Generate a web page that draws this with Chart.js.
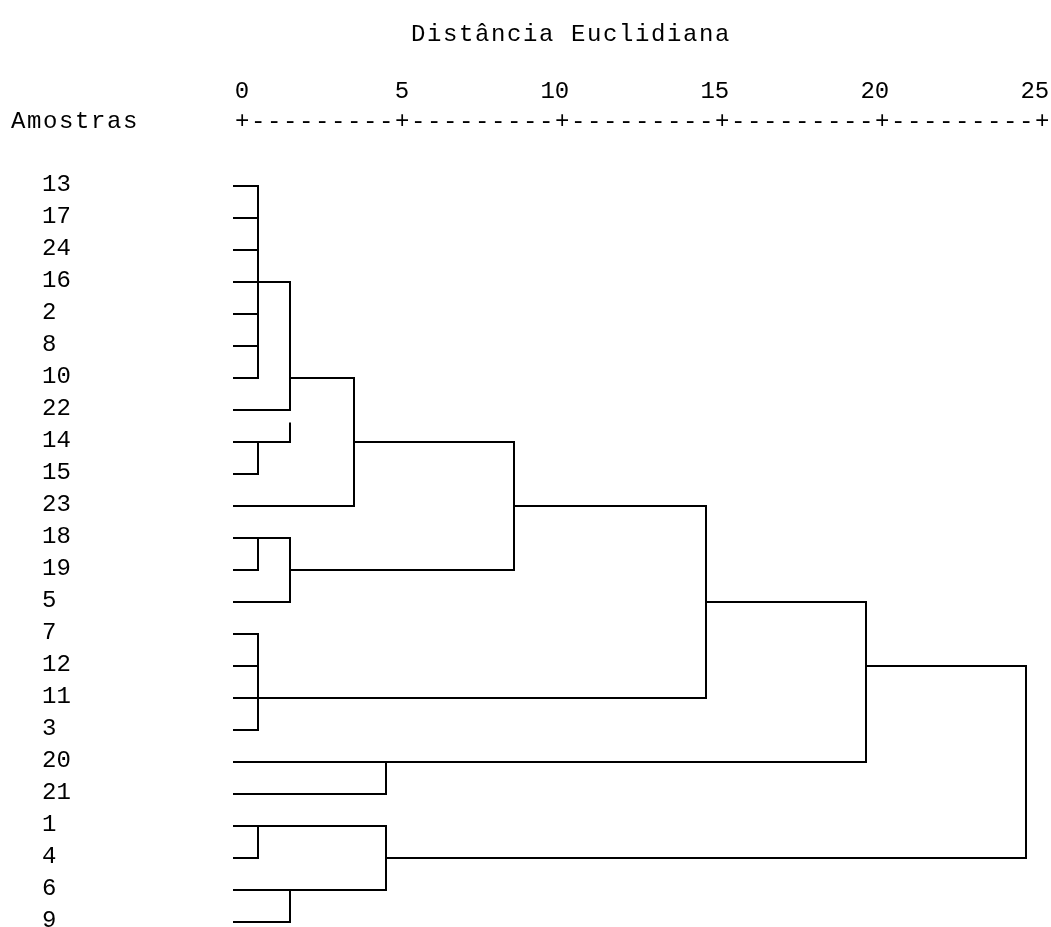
<!DOCTYPE html>
<html lang="pt">
<head>
<meta charset="utf-8">
<title>Dendrograma</title>
<script src="https://cdn.jsdelivr.net/npm/chart.js@4.4.1/dist/chart.umd.min.js"></script>
<style>
  html, body { margin: 0; padding: 0; background: #fff; }
  #wrap { position: relative; width: 1051px; height: 927px; }
  #wrap canvas { position: absolute; left: 0; top: 0; }
  .txt { position: absolute; font: 24px "Liberation Mono", monospace; letter-spacing: 1.6px; line-height: 32px; white-space: pre; color: #000; }
</style>
</head>
<body>
<div id="wrap">
  <canvas id="dendro" width="1051" height="927"></canvas>
  <div class="txt" style="left:411px;top:19px">Distância Euclidiana</div>
  <div class="txt" style="left:11px;top:106px">Amostras</div>
  <div class="txt" style="left:235px;top:106px">+---------+---------+---------+---------+---------+</div>
</div>
<script>
// leaf order, top to bottom
const samples = ['13', '17', '24', '16', '2', '8', '10', '22', '14', '15', '23', '18',
                 '19', '5', '7', '12', '11', '3', '20', '21', '1', '4', '6', '9'];
// distance at which each sample first joins a cluster
const leafJoin = [0.5, 0.5, 0.5, 0.5, 0.5, 0.5, 0.5, 1.5, 0.5, 0.5, 3.5, 0.5,
                  0.5, 1.5, 0.5, 0.5, 0.5, 0.5, 4.5, 4.5, 0.5, 0.5, 1.5, 1.5];
const leafStart = -0.25;
const distTicks = [0, 5, 10, 15, 20, 25];

// merges: distance, first/last row joined, row of outgoing line, parent merge
const mergeDist   = [0.5, 0.5, 1.5, 3.5, 0.5, 1.5, 8.5, 0.5, 14.5, 4.5, 19.5, 0.5, 1.5, 4.5, 24.5];
const mergeFrom   = [0, 8, 3, 6, 11, 11, 8, 14, 10, 18, 13, 20, 22, 20, 15];
const mergeTo     = [6, 9, 8, 10, 12, 13, 12, 17, 16, 19, 18, 21, 23, 22, 21];
const mergeOut    = [3, 8, 6, 8, 11, 12, 10, 16, 13, 18, 15, 20, 22, 21, null];
const mergeParent = [2, 2, 3, 6, 5, 6, 8, 8, 10, 10, 14, 13, 13, 14, null];
// the SPSS text plot leaves a hole in one vertical line
const verticalGaps = { 2: [7, 7.42] };

const segments = [];
samples.forEach((s, i) => {
    segments.push([[leafStart, i], [leafJoin[i], i]]);
});
mergeDist.forEach((d, k) => {
    const gap = verticalGaps[k];
    if (gap) {
        segments.push([[d, mergeFrom[k]], [d, gap[0]]]);
        segments.push([[d, gap[1]], [d, mergeTo[k]]]);
    } else {
        segments.push([[d, mergeFrom[k]], [d, mergeTo[k]]]);
    }
    if (mergeParent[k] !== null) {
        segments.push([[d, mergeOut[k]], [mergeDist[mergeParent[k]], mergeOut[k]]]);
    }
});

// fixed axis boxes, no extra room for the end labels
function fixBox(s, w, h) {
    if (w !== null) s.width = w;
    if (h !== null) s.height = h;
    s.paddingLeft = 0;
    s.paddingRight = 0;
    s.paddingTop = 0;
    s.paddingBottom = 0;
}

Chart.defaults.font.family = '"Liberation Mono", monospace';
Chart.defaults.font.size = 24;
Chart.defaults.color = '#000';

const ctx = document.getElementById('dendro');
const chart = new Chart(ctx, {
    type: 'scatter',
    data: {
        datasets: segments.map(seg => ({
            data: seg.map(([x, y]) => ({ x: x, y: y })),
            showLine: true,
            borderColor: '#000',
            borderWidth: 2,
            borderCapStyle: 'square',
            pointRadius: 0
        }))
    },
    options: {
        responsive: false,
        animation: false,
        events: [],
        layout: { padding: { left: 42, top: 0, right: 0, bottom: 0 } },
        plugins: {
            legend: { display: false },
            tooltip: { enabled: false }
        },
        scales: {
            x: {
                type: 'linear',
                position: 'top',
                min: -0.75,
                max: 25.28125,
                grid: { display: false, drawTicks: false },
                border: { display: false },
                ticks: {
                    autoSkip: false,
                    maxRotation: 0,
                    padding: 48,
                    // two-digit labels end above the + mark, like the text output
                    callback: v => String(v).length > 1 ? v + ' ' : String(v)
                },
                afterBuildTicks: s => { s.ticks = distTicks.map(v => ({ value: v })); },
                afterFit: s => fixBox(s, null, 154)
            },
            y: {
                type: 'linear',
                reverse: true,
                min: -1,
                max: 23.156,
                grid: { display: false, drawTicks: false },
                border: { display: false },
                ticks: {
                    autoSkip: false,
                    crossAlign: 'far',
                    padding: 0,
                    callback: v => samples[Math.round(v)]
                },
                // labels sit a touch above their line, as in the text output
                afterBuildTicks: s => { s.ticks = samples.map((_, i) => ({ value: i - 0.05 })); },
                afterFit: s => fixBox(s, 176, null)
            }
        }
    }
});
</script>
</body>
</html>
